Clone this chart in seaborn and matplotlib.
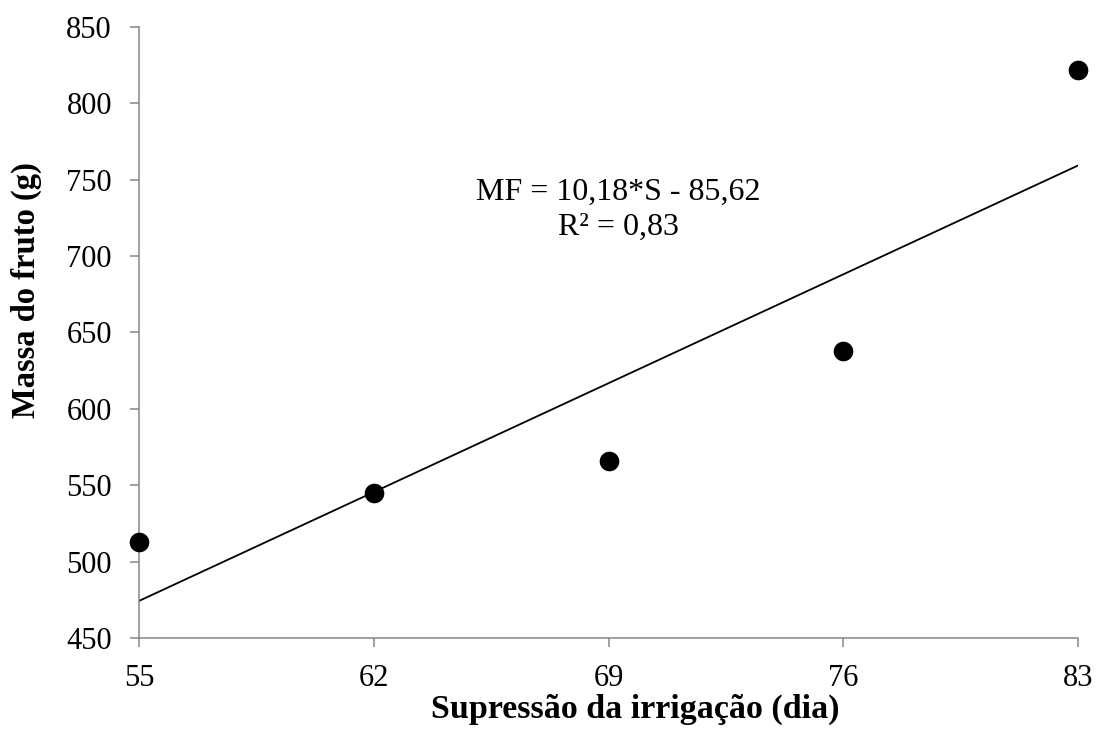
import matplotlib
matplotlib.use("Agg")
import matplotlib.pyplot as plt
import seaborn as sns
import numpy as np
import pandas as pd

# ----- Data -----
supressao = [55, 62, 69, 76, 83]
massa = [513, 545, 566, 638, 822]
slope = 10.18
intercept = -85.62
equation_text = "MF = 10,18*S - 85,62\nR² = 0,83"

df = pd.DataFrame({"supressao": supressao, "massa": massa})

# ----- Style -----
sns.set_style("white")
plt.rcParams["font.family"] = ["Liberation Serif", "DejaVu Serif"]
plt.rcParams.update({"text.color": "black", "axes.labelcolor": "black"})
axis_color = "#868686"

fig = plt.figure(figsize=(10.97, 7.29), dpi=100)
ax = fig.add_axes([0.1267, 0.1248, 0.856, 0.8382])

# regression line
x_line = np.array([min(supressao), max(supressao)])
ax.plot(x_line, slope * x_line + intercept, color="black", linewidth=1.3, zorder=2)

sns.scatterplot(
    data=df, x="supressao", y="massa", ax=ax,
    s=200, color="black", edgecolor="black", linewidth=0,
    zorder=3, clip_on=False, legend=False,
)

ax.text(69.3, 730.5, equation_text, ha="center", va="center",
        multialignment="center", fontsize=23, linespacing=1.27)

ax.set_xlim(55, 83)
ax.set_ylim(450, 850)
ax.set_xticks(supressao)
ax.set_yticks(np.arange(450, 851, 50))

ax.set_xlabel("Supressão da irrigação (dia)", fontsize=24.5, fontweight="bold", labelpad=1)
ax.xaxis.label.set_x(0.529)
ax.set_ylabel("Massa do fruto (g)", fontsize=23.5, fontweight="bold")
ax.yaxis.set_label_coords(-0.103, 0.57)

for spine in ["top", "right"]:
    ax.spines[spine].set_visible(False)
for spine in ["left", "bottom"]:
    ax.spines[spine].set_color(axis_color)
    ax.spines[spine].set_linewidth(1.1)

ax.tick_params(axis="both", which="major", direction="out", length=6.5, width=1.1,
               color=axis_color, labelsize=22, labelcolor="black", left=True, bottom=True)
ax.tick_params(axis="y", pad=13)
ax.tick_params(axis="x", pad=12)

fig.savefig("out.png", dpi=100)
